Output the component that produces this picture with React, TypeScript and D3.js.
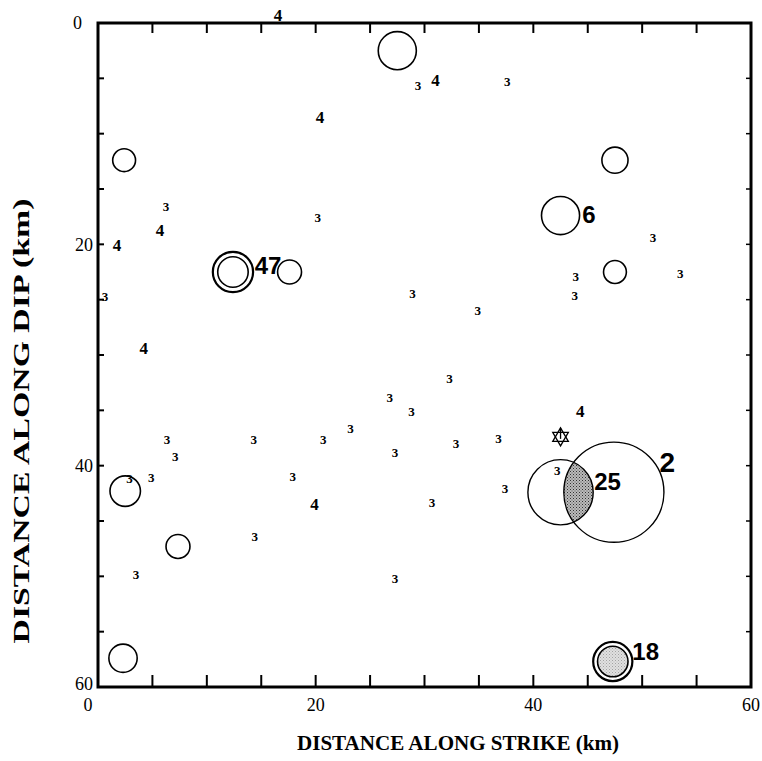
import React, { useEffect, useRef } from "react";
import * as d3 from "d3";

// axis ticks (km)
const majorTicks = [0, 20, 40, 60];
const minorTicks = [5, 10, 15, 20, 25, 30, 35, 40, 45, 50, 55];

// open circles: x, y, radius (km)
const openCircles = [
  [27.5, 2.5, 1.75],
  [2.4, 12.4, 1.05],
  [47.5, 12.4, 1.2],
  [42.5, 17.4, 1.75],
  [47.5, 22.5, 1.05],
  [17.6, 22.5, 1.1],
  [2.5, 42.3, 1.4],
  [7.35, 47.3, 1.1],
  [2.3, 57.4, 1.3],
];

// double circles: x, y, outer r, inner r
const doubleCircles = [
  [12.4, 22.5, 1.85, 1.4],
  [47.3, 57.7, 1.8, 1.4],
];

// overlapping pair: x, y, r
const bigCircles = [
  [42.5, 42.4, 3.0],
  [47.4, 42.4, 4.6],
];

// numbered event labels
const eventLabels = [
  { text: "6", x: 44.5, y: 17.3 },
  { text: "47", x: 14.4, y: 21.9 },
  { text: "18", x: 49.1, y: 56.8 },
  { text: "25", x: 45.6, y: 41.4 },
  { text: "2", x: 51.6, y: 39.7 },
];

// small events: x, y, magnitude class
const smallEvents = [
  [16.55, -0.7, 4], [29.4, 5.6, 3], [31.0, 5.15, 4], [37.6, 5.3, 3],
  [20.4, 8.5, 4], [6.25, 16.6, 3], [5.7, 18.7, 4], [20.2, 17.6, 3],
  [1.75, 20.1, 4], [51.0, 19.4, 3], [53.5, 22.6, 3], [43.9, 22.9, 3],
  [43.8, 24.6, 3], [0.65, 24.75, 3], [28.9, 24.4, 3], [34.9, 26.0, 3],
  [4.2, 29.4, 4], [32.3, 32.1, 3], [26.8, 33.8, 3], [28.8, 35.1, 3],
  [23.2, 36.6, 3], [6.35, 37.6, 3], [14.3, 37.6, 3], [20.7, 37.6, 3],
  [36.8, 37.5, 3], [32.9, 38.0, 3], [27.3, 38.8, 3], [7.1, 39.2, 3],
  [44.3, 35.1, 4], [17.9, 41.0, 3], [4.9, 41.1, 3], [2.9, 41.2, 3],
  [42.2, 40.4, 3], [19.9, 43.5, 4], [37.4, 42.1, 3], [30.7, 43.3, 3],
  [14.4, 46.4, 3], [3.5, 49.8, 3], [27.3, 50.2, 3],
];

// hypocenter star
const star = [42.5, 37.4];

const W = 762;
const H = 761;

export default function App() {
  const ref = useRef<SVGSVGElement>(null);

  useEffect(() => {
    const svg = d3.select(ref.current);
    svg.selectAll("*").remove();

    const x = d3.scaleLinear().domain([0, 60]).range([98, 751]);
    const y = d3.scaleLinear().domain([0, 60]).range([23, 687]);
    const k = x(1) - x(0);

    const defs = svg.append("defs");
    const pat = defs.append("pattern")
      .attr("id", "stipple")
      .attr("width", 3)
      .attr("height", 3)
      .attr("patternUnits", "userSpaceOnUse");
    pat.append("rect").attr("width", 3).attr("height", 3).attr("fill", "#bbb");
    pat.append("rect").attr("x", 0).attr("y", 0).attr("width", 1).attr("height", 1).attr("fill", "#333");
    pat.append("rect").attr("x", 1.5).attr("y", 1.5).attr("width", 1).attr("height", 1).attr("fill", "#555");

    const [c25, c2] = bigCircles;
    defs.append("clipPath").attr("id", "lens")
      .append("circle")
      .attr("cx", x(c25[0])).attr("cy", y(c25[1])).attr("r", c25[2] * k);

    // frame
    svg.append("rect")
      .attr("x", x(0)).attr("y", y(0))
      .attr("width", x(60) - x(0)).attr("height", y(60) - y(0))
      .attr("fill", "none").attr("stroke", "#000").attr("stroke-width", 3);

    const g = svg.append("g").attr("stroke", "#000").attr("stroke-width", 2);
    minorTicks.forEach(t => {
      g.append("line").attr("x1", x(t)).attr("x2", x(t)).attr("y1", y(0)).attr("y2", y(0) + 10);
      g.append("line").attr("x1", x(t)).attr("x2", x(t)).attr("y1", y(60)).attr("y2", y(60) - 12);
      g.append("line").attr("x1", x(0)).attr("x2", x(0) + 6).attr("y1", y(t)).attr("y2", y(t));
      g.append("line").attr("x1", x(60)).attr("x2", x(60) - 5).attr("y1", y(t)).attr("y2", y(t)).attr("stroke-width", 1.5);
    });

    const serif = "'Liberation Serif', 'Times New Roman', serif";
    const sans = "'Liberation Sans', Arial, sans-serif";

    svg.append("g").selectAll("text").data(majorTicks).enter().append("text")
      .attr("x", d => x(d) + (d === 0 ? -10 : 0))
      .attr("y", 711)
      .attr("text-anchor", "middle")
      .attr("font-family", serif).attr("font-size", 18)
      .text(d => d);

    svg.append("g").selectAll("text").data(majorTicks).enter().append("text")
      .attr("x", d => (d === 0 ? 82 : 93))
      .attr("y", d => y(d) - (d === 60 ? 3 : 0))
      .attr("dy", "0.35em")
      .attr("text-anchor", "end")
      .attr("font-family", serif).attr("font-size", 18)
      .text(d => d);

    svg.append("text")
      .attr("x", 458).attr("y", 750)
      .attr("text-anchor", "middle")
      .attr("font-family", serif).attr("font-size", 21).attr("font-weight", "bold")
      .attr("textLength", 322).attr("lengthAdjust", "spacingAndGlyphs")
      .text("DISTANCE ALONG STRIKE (km)");

    svg.append("text")
      .attr("transform", "translate(29,421) rotate(-90)")
      .attr("text-anchor", "middle")
      .attr("font-family", serif).attr("font-size", 24).attr("font-weight", "bold")
      .attr("textLength", 445).attr("lengthAdjust", "spacingAndGlyphs")
      .text("DISTANCE ALONG DIP (km)");

    // stippled fills
    svg.append("circle")
      .attr("cx", x(c2[0])).attr("cy", y(c2[1])).attr("r", c2[2] * k)
      .attr("clip-path", "url(#lens)")
      .attr("fill", "url(#stipple)");
    svg.append("circle")
      .attr("cx", x(doubleCircles[1][0])).attr("cy", y(doubleCircles[1][1])).attr("r", doubleCircles[1][3] * k)
      .attr("fill", "url(#stipple)").attr("opacity", 0.45);

    const circ = svg.append("g").attr("fill", "none").attr("stroke", "#000").attr("stroke-width", 1.6);
    openCircles.forEach(c => {
      circ.append("circle").attr("cx", x(c[0])).attr("cy", y(c[1])).attr("r", c[2] * k);
    });
    doubleCircles.forEach(c => {
      circ.append("circle").attr("cx", x(c[0])).attr("cy", y(c[1])).attr("r", c[2] * k).attr("stroke-width", 2.2);
      circ.append("circle").attr("cx", x(c[0])).attr("cy", y(c[1])).attr("r", c[3] * k);
    });
    bigCircles.forEach(c => {
      circ.append("circle").attr("cx", x(c[0])).attr("cy", y(c[1])).attr("r", c[2] * k).attr("stroke-width", 1.4);
    });

    // star of David
    const sx = x(star[0]), sy = y(star[1]), sr = 9;
    const tri = (rot: number) =>
      d3.range(3).map(i => {
        const a = rot + (i * 2 * Math.PI) / 3;
        return [sx + sr * Math.sin(a), sy - sr * Math.cos(a)];
      });
    const lineGen = d3.line().curve(d3.curveLinearClosed);
    svg.append("path").attr("d", lineGen(tri(0) as [number, number][]))
      .attr("fill", "none").attr("stroke", "#000").attr("stroke-width", 1.3);
    svg.append("path").attr("d", lineGen(tri(Math.PI) as [number, number][]))
      .attr("fill", "none").attr("stroke", "#000").attr("stroke-width", 1.3);
    svg.append("line").attr("x1", sx).attr("x2", sx).attr("y1", sy - sr).attr("y2", sy + 2)
      .attr("stroke", "#000").attr("stroke-width", 1.3);

    // small events
    svg.append("g").selectAll("text").data(smallEvents).enter().append("text")
      .attr("x", d => x(d[0]))
      .attr("y", d => y(d[1]))
      .attr("dy", "0.35em")
      .attr("text-anchor", "middle")
      .attr("font-family", serif).attr("font-weight", "bold")
      .attr("font-size", d => (d[2] === 4 ? 17 : 13))
      .text(d => d[2]);

    // numbered labels
    svg.append("g").selectAll("text").data(eventLabels).enter().append("text")
      .attr("x", d => x(d.x))
      .attr("y", d => y(d.y))
      .attr("dy", "0.35em")
      .attr("font-family", sans).attr("font-weight", "bold")
      .attr("font-size", d => (d.text === "2" ? 28 : 24))
      .text(d => d.text);
  }, []);

  return (
    <svg ref={ref} width={W} height={H}
      style={{ position: "absolute", left: 0, top: 0, background: "#fff" }} />
  );
}
